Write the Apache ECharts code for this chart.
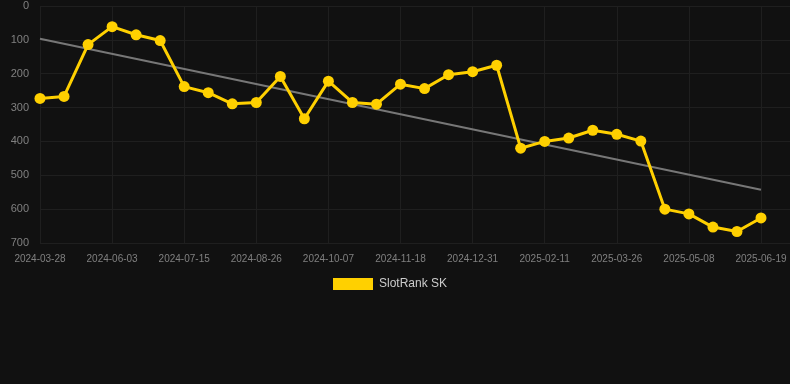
<!DOCTYPE html>
<html>
<head>
<meta charset="utf-8">
<script src="https://cdn.jsdelivr.net/npm/echarts@6/dist/echarts.min.js"></script>
<style>
html,body{margin:0;padding:0;background:#111111;}
#chart{width:790px;height:384px;}
</style>
</head>
<body>
<div id="chart"></div>
<script>
var categories = ["2024-03-28","2024-04-25","2024-05-20","2024-06-03","2024-06-17","2024-07-01","2024-07-15","2024-07-29","2024-08-12","2024-08-26","2024-09-09","2024-09-23","2024-10-07","2024-10-21","2024-11-04","2024-11-18","2024-12-02","2024-12-16","2024-12-31","2025-01-14","2025-01-28","2025-02-11","2025-02-25","2025-03-11","2025-03-26","2025-04-09","2025-04-23","2025-05-08","2025-05-22","2025-06-05","2025-06-19"];
var rankValues = [273,267,114,61,85,102,238,256,289,285,208,333,222,285,290,231,244,203,194,175,420,400,390,367,379,399,600,614,653,666,626];
var trendEnds = [97,543];
var yTicks = [0,100,200,300,400,500,600,700];
var seriesName = "SlotRank SK";

var lineData = rankValues.map(function(v,i){return [i,v];});
var trendData = [[0,trendEnds[0]],[categories.length-1,trendEnds[1]]];

var chart = echarts.init(document.getElementById('chart'), null, {renderer:'canvas'});
chart.setOption({
  backgroundColor:'#111111',
  animation:false,
  grid:{left:40,right:0,top:6,bottom:141,containLabel:false},
  legend:{
    show:true,
    data:[{name:seriesName,icon:'rect'}],
    top:278,left:333,padding:0,
    itemWidth:40,itemHeight:12,itemGap:10,
    textStyle:{color:'#cccccc',fontSize:12,padding:[0,0,0,1],fontFamily:'Liberation Sans, Arial, sans-serif'}
  },
  xAxis:{
    type:'value',
    min:0,
    max:(categories.length-1)+29/24.03,
    interval:3,
    axisLine:{show:false},
    axisTick:{show:false},
    splitLine:{show:true,lineStyle:{color:'#1f1f1f',width:1}},
    axisLabel:{
      color:'#808080',fontSize:10,margin:11,
      fontFamily:'Liberation Sans, Arial, sans-serif',
      showMaxLabel:false,
      formatter:function(v){
        var i=Math.round(v);
        if(Math.abs(v-i)>1e-6) return '';
        return categories[i]||'';
      }
    }
  },
  yAxis:{
    type:'value',
    inverse:true,
    min:yTicks[0],max:yTicks[yTicks.length-1],interval:100,
    axisLine:{show:false},
    axisTick:{show:false},
    splitLine:{show:true,lineStyle:{color:'#1f1f1f',width:1}},
    axisLabel:{color:'#808080',fontSize:11,margin:11,fontFamily:'Liberation Sans, Arial, sans-serif'}
  },
  series:[
    {
      name:'trend',
      type:'line',
      data:trendData,
      symbol:'none',
      lineStyle:{color:'#777777',width:2},
      silent:true,
      z:1
    },
    {
      name:seriesName,
      type:'line',
      data:lineData,
      symbol:'circle',
      symbolSize:11,
      showAllSymbol:true,
      itemStyle:{color:'#FFD000'},
      lineStyle:{color:'#FFD000',width:3},
      z:3
    }
  ]
});
</script>
</body>
</html>
